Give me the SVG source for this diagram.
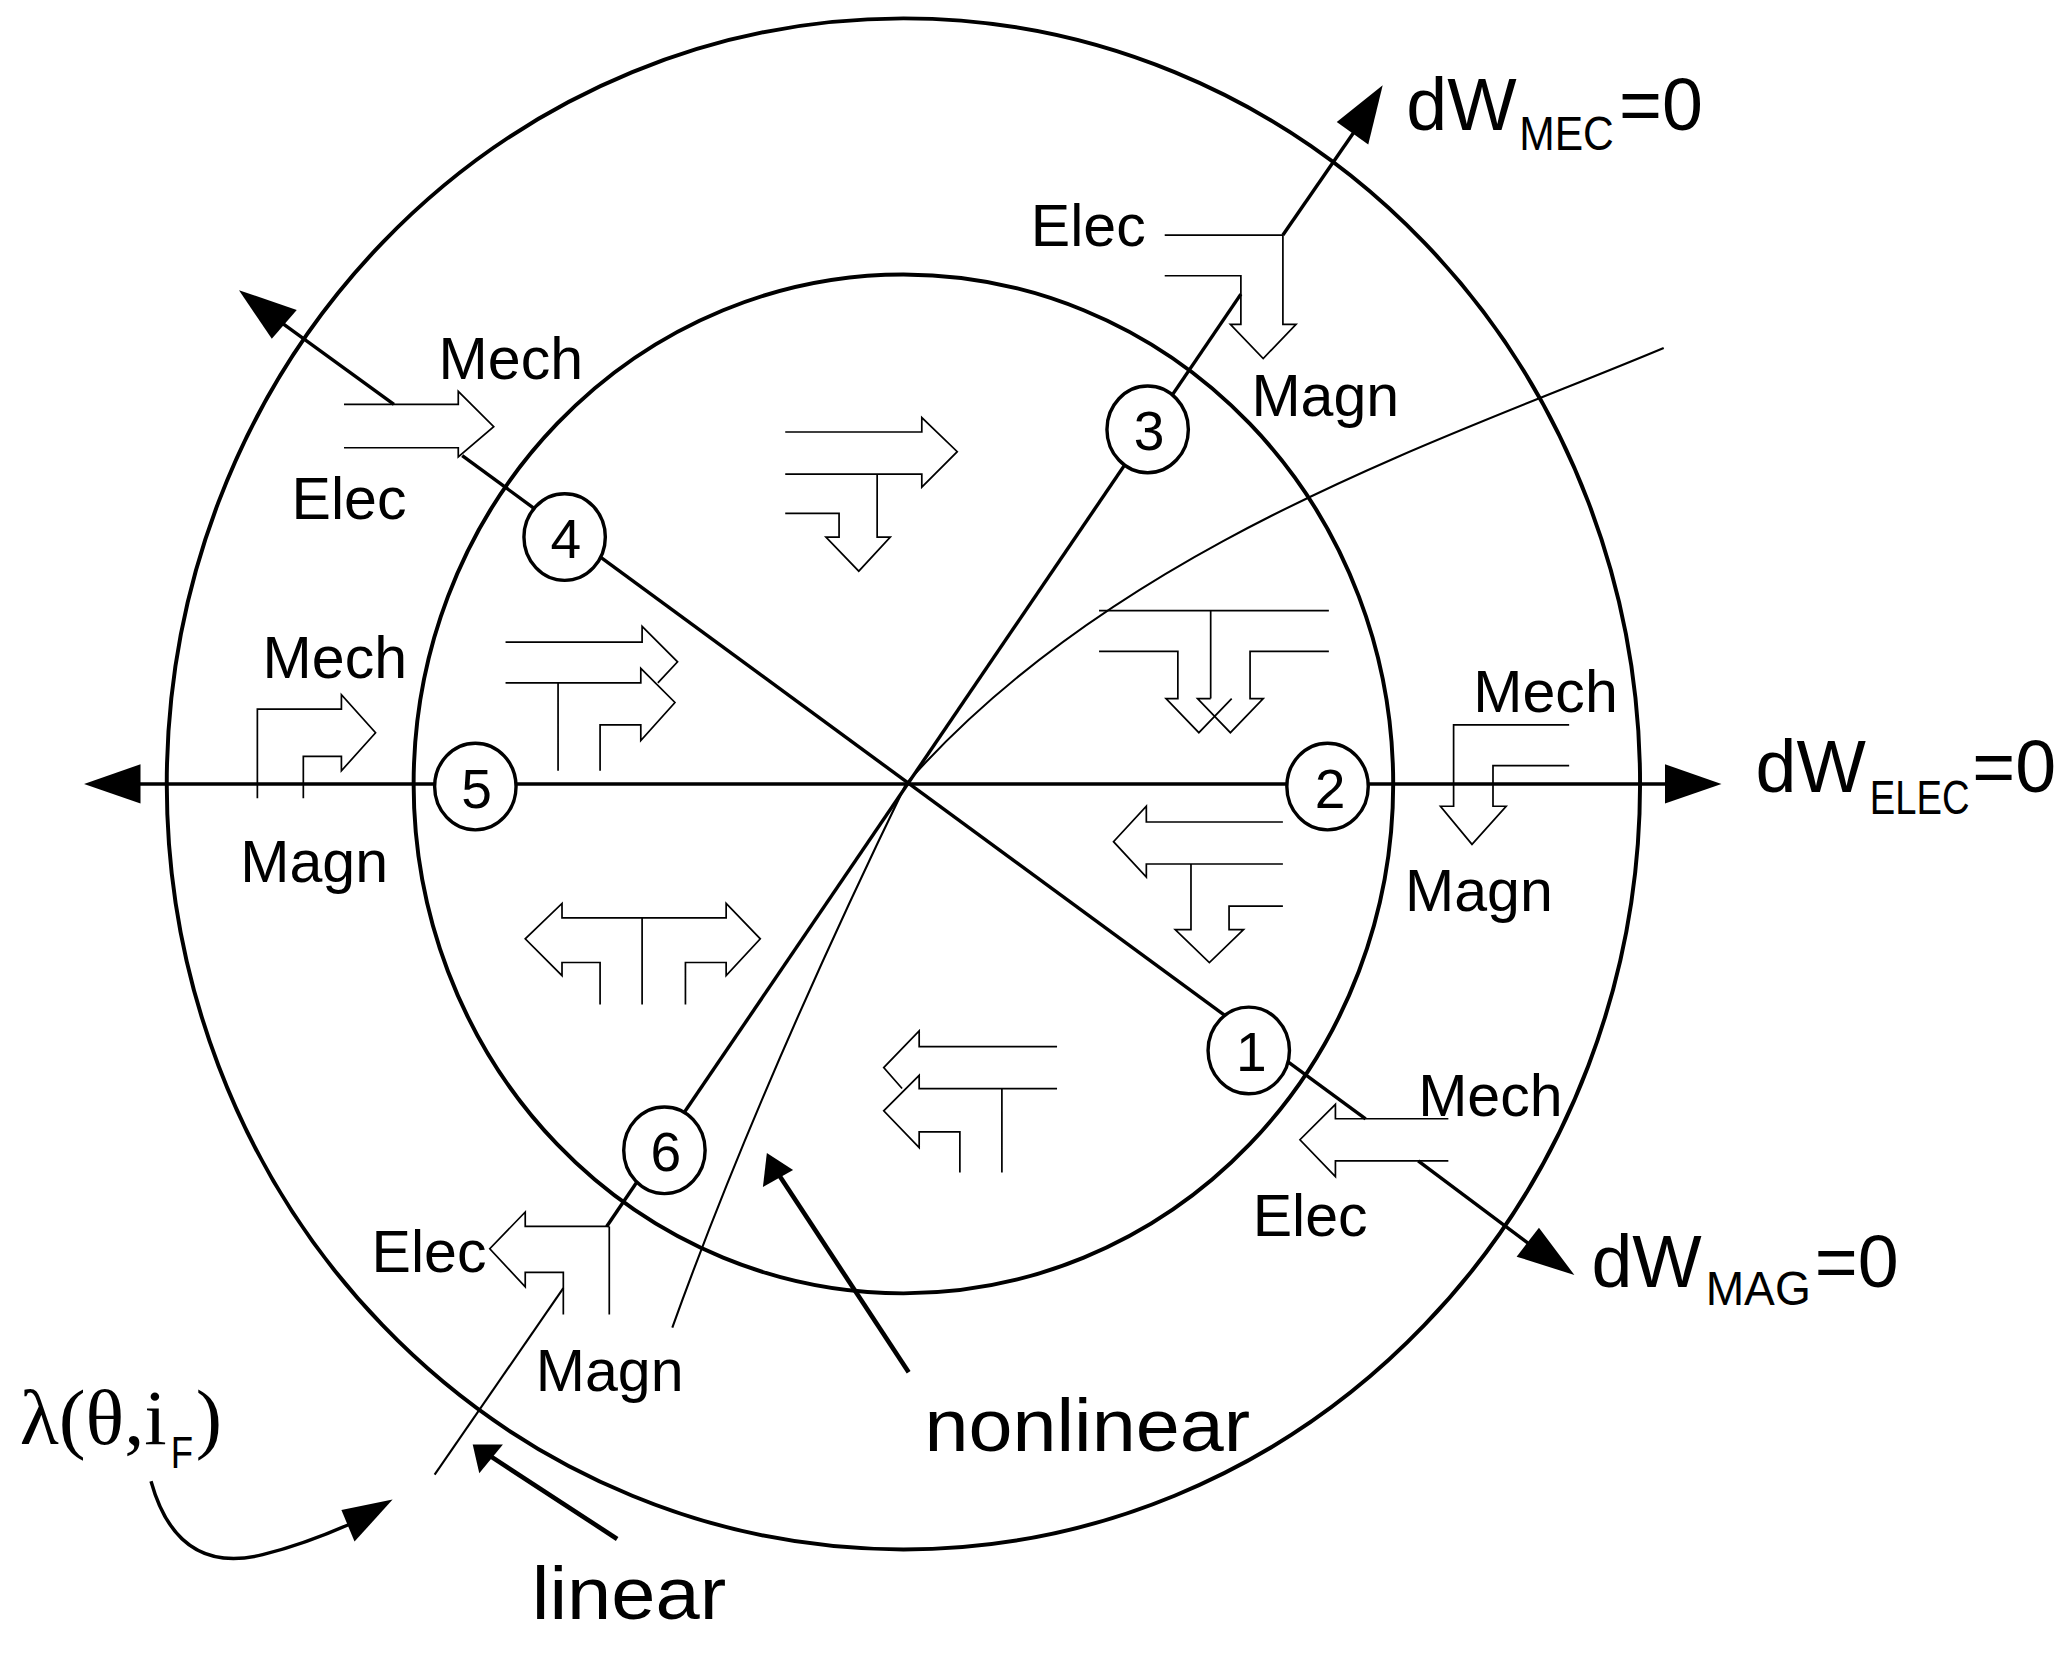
<svg xmlns="http://www.w3.org/2000/svg" width="2059" height="1659" viewBox="0 0 2059 1659">
<style>
.ring{fill:none;stroke:#000;stroke-width:3}
.ax{fill:none;stroke:#000;stroke-width:2.6}
.thin{fill:none;stroke:#000;stroke-width:1.6}
.flow{fill:none;stroke:#000;stroke-width:1.3;stroke-linejoin:miter}
.node{fill:#fff;stroke:#000;stroke-width:2.6}
.hd{fill:#000;stroke:none}
text{font-family:"Liberation Sans",Arial,sans-serif;fill:#000}
.lb{font-size:45px}
.nm{font-size:42px;text-anchor:middle}
.big{font-size:56px}
.sub{font-size:37px}
</style>
<rect width="2059" height="1659" fill="#fff"/>
<g transform="scale(1.3131)">
<g id="rings">
<ellipse class="ring" cx="688" cy="597" rx="561" ry="583"/>
<ellipse class="ring" cx="688" cy="597" rx="373" ry="388"/>
</g>
<g id="connectors">
<line class="ax" x1="100" y1="597" x2="1272" y2="597"/>
<polygon class="hd" points="64,597 107,582 107,612"/>
<polygon class="hd" points="1311,597 1268,582 1268,612"/>
<line class="ax" x1="212" y1="244" x2="300" y2="308"/>
<line class="ax" x1="352" y1="347" x2="1040" y2="852"/>
<line class="ax" x1="1080" y1="884" x2="1172" y2="953"/>
<polygon class="hd" points="182,221 226,236 207,258"/>
<polygon class="hd" points="1199,971 1172,935 1155,957"/>
<line class="ax" x1="977" y1="179" x2="1035" y2="95"/>
<polygon class="hd" points="1053,65 1018,93 1042,110"/>
<line class="ax" x1="945" y1="224" x2="462" y2="934"/>
<line class="thin" x1="429" y1="981" x2="331" y2="1123"/>
<path class="thin" d="M1267,265 C1100,335 850,415 690,597 C640,700 570,850 512,1011"/>
<line class="ax" x1="692" y1="1045" x2="592" y2="893" style="stroke-width:3.5"/>
<polygon class="hd" points="584,878 581,904 604,891"/>
<line class="ax" x1="470" y1="1172" x2="372" y2="1108" style="stroke-width:3.5"/>
<polygon class="hd" points="360,1100 365,1122 383,1100"/>
<path class="ax" d="M115,1128 Q135,1200 200,1184 Q232,1176 268,1160"/>
<polygon class="hd" points="299,1142 260,1150 270,1174"/>
</g>
<g id="flows">
<path class="flow" d="M887,179 H977 V247 H987 L962,273 L937,247 H945 V210 H887"/>
<path class="flow" d="M262,308 H349 V298 L376,325 L349,348 V341 H262"/>
<path class="flow" d="M598,329 H702 V318 L729,344 L702,371 V361 H598 M668,361 V409 H678 L654,435 L629,409 H639 V391 H598"/>
<path class="flow" d="M196,608 V540 H260 V529 L286,558 L260,587 V576 H231 V608"/>
<path class="flow" d="M385,489 H489 V477 L516,504 L501,520 M385,520 H488 V509 L514,535 L488,564 V552 H457 V587 M425,520 V587"/>
<path class="flow" d="M457,765 V733 H428 V743 L400,715 L428,688 V699 H553 V688 L579,715 L553,743 V733 H522 V765 M489,699 V765"/>
<path class="flow" d="M805,797 H700 V785 L673,813 L687,829 M805,829 H700 V819 L673,846 L700,874 V862 H731 V893 M763,829 V893"/>
<path class="flow" d="M837,465 H1012 M922,465 V532 M837,496 H897 V532 H888 L913,558 L938,532 M1012,496 H952 V532 H962 L937,558 L912,532 H922"/>
<path class="flow" d="M977,626 H873 V614 L848,641 L873,668 V658 H977 M907,658 V708 H895 L921,733 L947,708 H936 V690 H977"/>
<path class="flow" d="M1195,552 H1107 V614 H1097 L1121,643 L1147,614 H1137 V583 H1195"/>
<path class="flow" d="M1103,852 H1017 V841 L990,868 L1017,896 V884 H1103"/>
<path class="flow" d="M464,934 H400 V923 L373,951 L400,980 V969 H429 V1001 M464,934 V1001"/>
</g>
<g id="n1"><ellipse class="node" cx="951" cy="800" rx="31" ry="33"/><text class="nm" x="953" y="816">1</text></g>
<g id="n2"><ellipse class="node" cx="1011" cy="599" rx="31" ry="33"/><text class="nm" x="1013" y="615">2</text></g>
<g id="n3"><ellipse class="node" cx="874" cy="327" rx="31" ry="33"/><text class="nm" x="875" y="343">3</text></g>
<g id="n4"><ellipse class="node" cx="430" cy="409" rx="31" ry="33"/><text class="nm" x="431" y="425">4</text></g>
<g id="n5"><ellipse class="node" cx="362" cy="599" rx="31" ry="33"/><text class="nm" x="363" y="615">5</text></g>
<g id="n6"><ellipse class="node" cx="506" cy="876" rx="31" ry="33"/><text class="nm" x="507" y="892">6</text></g>
<g id="labels">
<text class="lb" x="785" y="187">Elec</text>
<text class="lb" x="953" y="317">Magn</text>
<text class="lb" x="334" y="289">Mech</text>
<text class="lb" x="222" y="395">Elec</text>
<text class="lb" x="200" y="516">Mech</text>
<text class="lb" x="183" y="672">Magn</text>
<text class="lb" x="1122" y="542">Mech</text>
<text class="lb" x="1070" y="694">Magn</text>
<text class="lb" x="1080" y="850">Mech</text>
<text class="lb" x="954" y="941">Elec</text>
<text class="lb" x="283" y="969">Elec</text>
<text class="lb" x="408" y="1059">Magn</text>
<text class="big" x="1071" y="99">dW</text><text class="sub" x="1157" y="114" textLength="72" lengthAdjust="spacingAndGlyphs">MEC</text><text class="big" x="1233" y="99">=0</text>
<text class="big" x="1337" y="603">dW</text><text class="sub" x="1424" y="620" textLength="76" lengthAdjust="spacingAndGlyphs">ELEC</text><text class="big" x="1502" y="603">=0</text>
<text class="big" x="1212" y="980">dW</text><text class="sub" x="1299" y="994" textLength="80" lengthAdjust="spacingAndGlyphs">MAG</text><text class="big" x="1382" y="980">=0</text>
<text class="big" x="704" y="1105" textLength="248" lengthAdjust="spacingAndGlyphs">nonlinear</text>
<text class="big" x="405" y="1233" textLength="148" lengthAdjust="spacingAndGlyphs">linear</text>
<text x="15" y="1100" style="font-family:'Liberation Serif','Times New Roman',serif;font-size:60px" textLength="112" lengthAdjust="spacingAndGlyphs">λ(θ,i</text>
<text x="130" y="1118" style="font-size:34px" textLength="17" lengthAdjust="spacingAndGlyphs">F</text>
<text x="149" y="1100" style="font-family:'Liberation Serif','Times New Roman',serif;font-size:60px">)</text>
</g>
</g>
</svg>
